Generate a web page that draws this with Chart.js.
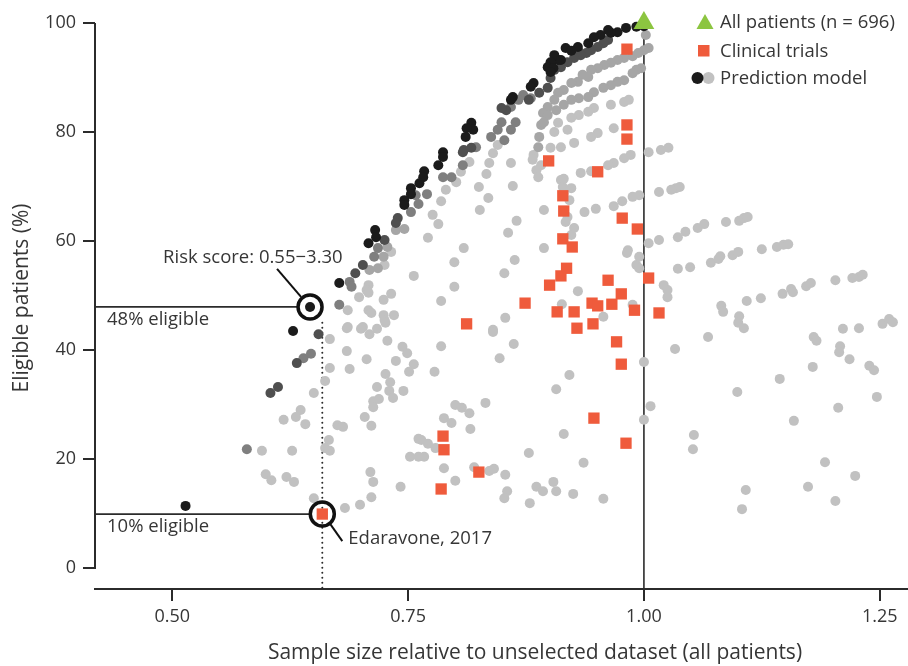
<!DOCTYPE html>
<html>
<head>
<meta charset="utf-8">
<script src="https://cdn.jsdelivr.net/npm/chart.js@4.4.1/dist/chart.umd.min.js"></script>
<style>
  body { margin: 0; background: #fff; }
  canvas { display: block; }
</style>
</head>
<body>
<canvas id="chart" width="908" height="666"></canvas>
<script>
// --- Data (x = sample size relative to all patients, y = eligible patients %) ---
const xTicks = [0.5, 0.75, 1.0, 1.25];
const yTicks = [0, 20, 40, 60, 80, 100];
const legendLabels = ['All patients (n = 696)', 'Clinical trials', 'Prediction model'];

const allPatients = [[1.0, 100]];

const clinicalTrials = [
  [0.982, 95.2], [0.982, 81.3], [0.982, 78.7], [0.899, 74.7], [0.951, 72.7], [0.914, 68.3],
  [0.915, 65.5], [0.977, 64.2], [0.993, 62.2], [0.914, 60.4], [0.924, 58.9], [0.918, 55.0],
  [0.912, 53.6], [0.962, 52.8], [1.005, 53.2], [0.900, 51.9], [0.976, 50.3], [0.874, 48.6],
  [0.945, 48.6], [0.966, 48.4], [0.951, 48.1], [0.908, 47.0], [0.926, 47.0], [0.990, 47.3],
  [1.016, 46.8], [0.812, 44.8], [0.946, 44.8], [0.929, 44.0], [0.971, 41.5], [0.976, 37.4],
  [0.947, 27.5], [0.787, 24.2], [0.788, 21.7], [0.825, 17.6], [0.785, 14.5], [0.659, 9.9],
  [0.981, 22.9]
];

// prediction model, grouped by shade (darkest = closest to the upper envelope)
const modelBlack = [
  [1.000, 99.4], [0.992, 99.3], [0.981, 99.1], [0.972, 98.3], [0.965, 98.2], [0.962, 98.7],
  [0.954, 97.8], [0.947, 97.4], [0.941, 96.3], [0.930, 95.6], [0.917, 95.4], [0.923, 94.9],
  [0.909, 93.2], [0.905, 94.1], [0.912, 93.2], [0.901, 92.8], [0.898, 91.9], [0.904, 91.7],
  [0.901, 91.0], [0.883, 89.0], [0.880, 88.3], [0.861, 86.4], [0.859, 85.9], [0.817, 81.7],
  [0.819, 80.4], [0.812, 80.7], [0.811, 79.1], [0.787, 76.3], [0.787, 75.4], [0.782, 73.9],
  [0.767, 72.8], [0.766, 71.7], [0.762, 70.6], [0.753, 69.7], [0.753, 68.6], [0.746, 67.5],
  [0.746, 66.6], [0.715, 62.0], [0.716, 60.7], [0.708, 59.6], [0.677, 52.3], [0.646, 47.9],
  [0.628, 43.5], [0.514, 11.4]
];

const modelDark = [
  [0.854, 84.0], [0.849, 84.4], [0.878, 85.9], [0.809, 76.7], [0.817, 77.1], [0.808, 76.3],
  [0.962, 96.9], [0.957, 96.3], [0.951, 95.6], [0.944, 95.0], [0.939, 94.5], [0.931, 94.7],
  [0.933, 94.1], [0.926, 93.6], [0.919, 92.8], [0.912, 91.9], [0.905, 91.4], [0.901, 89.9],
  [0.898, 88.1], [0.889, 87.2], [0.739, 64.2], [0.737, 63.3], [0.725, 60.2], [0.702, 55.6],
  [0.694, 54.1], [0.655, 42.9], [0.632, 37.6], [0.604, 32.1], [0.612, 33.2]
];

const modelMid = [
  [0.880, 86.2], [0.872, 86.8], [0.867, 85.9], [0.859, 84.6], [0.852, 78.5], [0.859, 80.4],
  [0.864, 81.8], [0.822, 77.2], [0.787, 71.7], [0.796, 71.7], [0.808, 73.9], [0.770, 68.6],
  [0.758, 68.4], [0.753, 65.3], [0.718, 58.7], [0.714, 57.1], [0.688, 52.5], [0.690, 51.6],
  [0.677, 48.3], [0.639, 38.5], [0.647, 39.3], [0.579, 21.8], [0.849, 81.8], [0.845, 80.4],
  [0.838, 79.1], [0.761, 66.8]
];

const modelLight = [
  [1.005, 95.4], [1.000, 95.0], [0.994, 94.5], [0.988, 93.9], [0.979, 93.6], [0.972, 93.2],
  [0.965, 92.7], [0.958, 92.3], [0.951, 91.7], [0.944, 91.4], [0.935, 90.5], [0.941, 90.1],
  [0.930, 89.2], [0.923, 89.0], [0.915, 87.7], [0.909, 87.2], [0.905, 85.9], [0.898, 84.6],
  [0.893, 83.5], [0.891, 81.3], [0.889, 79.1], [0.888, 77.2], [0.997, 91.7], [0.992, 91.4],
  [0.988, 90.8], [0.979, 89.5], [0.972, 89.2], [0.965, 88.6], [0.957, 88.1], [0.947, 87.3],
  [0.941, 86.4], [0.931, 86.2], [0.923, 85.9], [0.915, 85.0], [0.907, 84.0], [0.898, 83.1],
  [0.894, 81.8], [0.737, 62.0], [0.746, 62.2], [0.728, 58.9], [0.724, 57.1], [0.709, 54.7],
  [0.718, 55.0], [1.002, 97.8]
];

const modelPale = [
  [0.984, 85.9], [0.979, 85.5], [0.965, 85.0], [0.947, 84.4], [0.941, 83.7], [0.931, 83.1],
  [0.923, 82.6], [0.909, 81.7], [0.968, 80.7], [0.951, 79.8], [0.944, 79.1], [0.926, 78.0],
  [0.912, 77.2], [0.901, 77.1], [0.919, 80.4], [0.905, 80.0],
  [1.026, 77.1], [1.018, 76.7], [1.005, 76.3], [0.986, 75.8], [0.979, 75.2], [0.968, 74.3],
  [0.962, 73.9], [0.933, 72.5], [0.912, 71.2], [0.914, 69.9], [0.915, 68.8],
  [1.038, 69.9], [1.034, 69.7], [1.029, 69.4], [1.016, 69.0], [0.995, 68.4], [0.988, 68.1],
  [0.977, 67.3], [0.968, 66.4], [0.949, 65.9], [0.937, 65.3],
  [0.883, 75.8], [0.882, 74.9], [0.891, 73.9], [0.886, 73.0], [0.888, 71.7], [0.915, 71.4],
  [0.923, 69.7], [0.921, 67.5], [0.919, 64.4], [0.917, 63.5], [0.926, 62.4], [0.923, 61.1],
  [0.894, 65.7], [0.894, 58.7], [0.944, 72.8],
  [0.833, 72.3], [0.825, 69.9], [0.835, 67.9], [0.836, 74.3], [0.859, 74.3], [0.861, 70.1],
  [0.826, 65.7], [0.865, 63.7], [0.856, 61.5], [0.809, 58.7], [0.799, 56.1], [0.863, 56.5],
  [0.852, 54.1], [0.799, 51.6], [0.785, 49.0], [0.853, 45.9], [0.840, 43.7],
  [0.801, 70.8], [0.815, 74.5], [0.806, 72.7], [0.840, 76.1], [0.845, 77.6], [0.790, 69.4],
  [0.785, 67.3], [0.776, 64.8], [0.782, 63.1], [0.771, 60.6],
  [0.732, 58.0], [0.725, 55.6], [0.756, 53.6], [0.708, 51.9], [0.706, 51.0], [0.698, 49.7],
  [0.708, 50.5], [0.732, 50.3], [0.724, 49.2], [0.686, 47.3], [0.708, 47.3], [0.711, 46.8],
  [0.724, 46.4], [0.725, 45.5], [0.735, 46.4], [0.686, 44.2], [0.702, 44.2],
  [1.005, 59.6], [0.983, 58.3], [0.982, 57.8], [0.995, 57.1], [0.992, 55.6], [0.995, 55.0],
  [0.930, 50.8], [0.913, 48.4], [0.957, 46.1], [0.988, 48.3],
  [1.016, 60.2], [1.036, 60.7], [1.044, 61.7], [1.057, 62.4], [1.064, 63.1], [1.087, 63.5],
  [1.101, 63.7], [1.106, 64.2], [1.110, 64.4],
  [1.036, 54.9], [1.049, 55.2], [1.071, 56.0], [1.079, 56.7], [1.081, 57.2], [1.094, 57.4],
  [1.100, 58.0], [1.125, 58.5], [1.141, 58.9], [1.148, 59.3], [1.153, 59.4],
  [1.021, 51.9], [1.025, 51.0], [1.025, 49.7], [1.082, 48.1], [1.084, 47.0], [1.101, 46.2],
  [1.100, 45.0], [1.109, 49.0], [1.124, 49.5], [1.147, 50.3], [1.156, 51.2], [1.158, 50.6],
  [1.172, 51.7], [1.177, 52.3], [1.203, 52.8], [1.221, 53.2], [1.228, 53.4], [1.232, 53.8],
  [1.253, 44.8], [1.260, 45.7], [1.264, 45.1], [1.211, 43.9], [1.228, 44.0],
  [1.106, 44.0], [1.068, 42.4], [1.033, 40.2], [1.000, 37.8], [1.180, 42.4], [1.183, 41.7],
  [1.208, 40.7], [1.207, 39.6], [1.218, 38.3], [1.179, 36.9], [1.239, 37.1], [1.244, 36.3],
  [1.144, 34.7], [1.099, 32.3], [1.247, 31.4], [1.206, 29.4], [1.007, 29.7], [1.000, 27.2],
  [1.159, 27.0], [1.053, 24.4], [1.052, 21.8], [1.192, 19.4], [1.224, 16.9], [1.174, 14.9],
  [1.108, 14.3], [1.203, 12.3], [1.104, 10.8],
  [0.840, 43.3], [0.862, 41.1], [0.847, 38.5], [0.785, 40.7], [0.778, 36.0], [0.921, 35.4],
  [0.907, 32.8], [0.832, 30.3], [0.800, 29.9], [0.807, 29.4], [0.815, 28.4], [0.788, 27.5],
  [0.796, 26.6], [0.816, 25.5], [0.915, 24.6], [0.764, 23.5], [0.771, 22.8], [0.779, 22.0],
  [0.767, 20.4], [0.878, 21.1], [0.936, 19.3], [0.788, 18.3], [0.820, 18.5], [0.836, 17.8],
  [0.841, 18.2], [0.853, 17.1], [0.800, 16.0], [0.855, 14.1], [0.852, 12.8], [0.886, 14.9],
  [0.893, 14.1], [0.904, 15.8], [0.907, 14.1], [0.925, 13.6], [0.879, 11.9], [0.957, 12.7],
  [0.752, 20.4], [0.761, 20.4], [0.761, 23.7],
  [0.685, 44.0], [0.700, 43.9], [0.709, 42.9], [0.717, 43.9], [0.728, 41.7], [0.726, 45.0],
  [0.667, 42.0], [0.685, 39.8], [0.706, 38.3], [0.737, 38.0], [0.744, 40.6], [0.749, 39.4],
  [0.756, 37.4], [0.751, 36.0], [0.667, 36.7], [0.688, 36.5], [0.662, 34.3], [0.726, 35.6],
  [0.731, 34.1], [0.717, 33.2], [0.730, 32.5], [0.745, 32.5], [0.734, 31.2], [0.713, 30.6],
  [0.719, 31.0], [0.713, 29.5], [0.650, 32.1], [0.636, 29.0], [0.631, 27.7], [0.618, 27.2],
  [0.641, 26.4], [0.675, 26.2], [0.681, 25.9], [0.704, 27.7], [0.711, 26.1], [0.666, 23.5],
  [0.662, 22.0], [0.667, 21.5], [0.595, 21.5], [0.627, 21.5], [0.599, 17.2], [0.605, 16.1],
  [0.621, 16.7], [0.629, 15.8], [0.710, 17.6], [0.713, 15.8], [0.742, 14.9], [0.711, 13.0],
  [0.699, 11.6], [0.683, 11.0], [0.650, 12.8]
];

// highlighted examples
const riskPoint = [0.646, 47.9];
const edaravonePoint = [0.659, 9.9];
const dottedFrom = 45;

// --- Styles ---
const FONT = "'Open Sans', sans-serif";
const TEXT = '#363636';
const AXIS = '#2b2b2b';
const GREEN = '#8cc540';
const RED = '#ef5b3c';
const SHADES = { black: '#1b1b1b', dark: '#4f4f4f', mid: '#7f7f7f', light: '#a6a6a6', pale: '#c1c1c1' };

Chart.defaults.font.family = FONT;

const toXY = arr => arr.map(p => ({ x: p[0], y: p[1] }));

function dots(data, color) {
    return {
        data: toXY(data),
        pointStyle: 'circle',
        pointRadius: 5,
        backgroundColor: color,
        borderWidth: 0,
        clip: false
    };
}

// --- Annotation / legend plugin ---
function line(ctx, x1, y1, x2, y2) {
    ctx.beginPath();
    ctx.moveTo(x1, y1);
    ctx.lineTo(x2, y2);
    ctx.stroke();
}

const annotations = {
    id: 'annotations',
    beforeDatasetsDraw(chart) {
        const { ctx, chartArea, scales: { x, y } } = chart;
        ctx.save();
        ctx.strokeStyle = AXIS;

        // y spine only between 0 and 100
        ctx.lineWidth = 2;
        line(ctx, chartArea.left, y.getPixelForValue(0) + 1, chartArea.left, y.getPixelForValue(100));

        // reference line at 1.00
        ctx.lineWidth = 1.6;
        line(ctx, x.getPixelForValue(1), y.getPixelForValue(100), x.getPixelForValue(1), chartArea.bottom);

        // dotted line through Edaravone
        const ex = x.getPixelForValue(edaravonePoint[0]);
        ctx.save();
        ctx.lineWidth = 2;
        ctx.lineCap = 'round';
        ctx.setLineDash([0, 5]);
        line(ctx, ex, y.getPixelForValue(dottedFrom), ex, chartArea.bottom);
        ctx.restore();

        // eligibility lines
        ctx.lineWidth = 1.8;
        const r = 12;
        const rx = x.getPixelForValue(riskPoint[0]), ry = y.getPixelForValue(riskPoint[1]);
        line(ctx, chartArea.left, ry, rx - r, ry);
        const ey = y.getPixelForValue(edaravonePoint[1]);
        line(ctx, chartArea.left, ey, ex - r, ey);
        ctx.restore();
    },
    afterDatasetsDraw(chart) {
        const { ctx, chartArea, scales: { x, y } } = chart;
        ctx.save();
        const r = 12;
        const rx = x.getPixelForValue(riskPoint[0]), ry = y.getPixelForValue(riskPoint[1]);
        const ex = x.getPixelForValue(edaravonePoint[0]), ey = y.getPixelForValue(edaravonePoint[1]);

        // circles
        ctx.strokeStyle = '#111';
        ctx.lineWidth = 3.5;
        [[rx, ry], [ex, ey]].forEach(([cx, cy]) => {
            ctx.beginPath();
            ctx.arc(cx, cy, r, 0, Math.PI * 2);
            ctx.stroke();
        });

        // leader lines
        ctx.lineWidth = 2;
        line(ctx, rx - 9, ry - 10, rx - 33, ry - 38);
        line(ctx, ex + 8, ey + 10, ex + 20, ey + 27);

        // annotation text
        ctx.fillStyle = TEXT;
        ctx.textBaseline = 'middle';
        ctx.textAlign = 'left';
        ctx.font = `18.5px ${FONT}`;
        ctx.fillText('Risk score: 0.55\u22123.30', rx - 147, ry - 49);
        ctx.fillText('48% eligible', chartArea.left + 12, ry + 13);
        ctx.fillText('10% eligible', chartArea.left + 12, ey + 13);
        ctx.fillText('Edaravone, 2017', ex + 26, ey + 25);

        // legend
        ctx.font = `18.5px ${FONT}`;
        const lx = 720;
        const rows = [22, 51, 78];
        ctx.fillStyle = GREEN;
        ctx.beginPath();
        ctx.moveTo(705, rows[0] - 8);
        ctx.lineTo(713.5, rows[0] + 7);
        ctx.lineTo(696.5, rows[0] + 7);
        ctx.closePath();
        ctx.fill();
        ctx.fillStyle = RED;
        ctx.fillRect(698, rows[1] - 6, 11.5, 11.5);
        ctx.fillStyle = SHADES.pale;
        ctx.beginPath(); ctx.arc(708.5, rows[2], 6, 0, Math.PI * 2); ctx.fill();
        ctx.fillStyle = SHADES.black;
        ctx.beginPath(); ctx.arc(697.5, rows[2], 6, 0, Math.PI * 2); ctx.fill();
        ctx.fillStyle = TEXT;
        legendLabels.forEach((t, i) => ctx.fillText(t, lx, rows[i] + 1));

        // axis titles
        ctx.font = `21px ${FONT}`;
        ctx.textAlign = 'center';
        ctx.fillText('Sample size relative to unselected dataset (all patients)', 535, 653);
        ctx.translate(22, 298);
        ctx.rotate(-Math.PI / 2);
        ctx.fillText('Eligible patients (%)', 0, 0);
        ctx.restore();
    }
};

// fixed axis boxes so the plot area lands at left 95, top 23, right 908, bottom 589
function fixBox(s, size) {
    if (s.isHorizontal()) s.height = size; else s.width = size;
    s.paddingLeft = 0;
    s.paddingRight = 0;
    s.paddingTop = 0;
    s.paddingBottom = 0;
}

// --- Chart ---
new Chart(document.getElementById('chart').getContext('2d'), {
    type: 'scatter',
    data: {
        datasets: [
            {
                data: toXY(allPatients),
                pointStyle: 'triangle',
                pointRadius: 12,
                backgroundColor: GREEN,
                borderWidth: 0,
                clip: false
            },
            {
                data: toXY(clinicalTrials),
                pointStyle: 'rect',
                pointRadius: 8,
                backgroundColor: RED,
                borderWidth: 0,
                clip: false
            },
            dots(modelBlack, SHADES.black),
            dots(modelDark, SHADES.dark),
            dots(modelMid, SHADES.mid),
            dots(modelLight, SHADES.light),
            dots(modelPale, SHADES.pale)
        ]
    },
    options: {
        responsive: false,
        animation: false,
        events: [],
        layout: { autoPadding: false, padding: { top: 23, right: 0, bottom: 0, left: 0 } },
        plugins: { legend: { display: false }, tooltip: { enabled: false } },
        scales: {
            x: {
                type: 'linear',
                min: 0.418,
                max: 1.28,
                afterBuildTicks: s => { s.ticks = xTicks.map(v => ({ value: v })); },
                afterFit: s => fixBox(s, 77),
                ticks: {
                    callback: v => v.toFixed(2),
                    font: { size: 18 },
                    color: TEXT,
                    padding: 5,
                    maxRotation: 0
                },
                grid: { drawOnChartArea: false, tickLength: 12, color: AXIS, lineWidth: 2 },
                border: { color: AXIS, width: 2 }
            },
            y: {
                type: 'linear',
                min: -3.85,
                max: 100,
                afterBuildTicks: s => { s.ticks = yTicks.map(v => ({ value: v })); },
                afterFit: s => fixBox(s, 95),
                ticks: { font: { size: 18 }, color: TEXT, padding: 7 },
                grid: { drawOnChartArea: false, tickLength: 12, color: AXIS, lineWidth: 2 },
                border: { display: false }
            }
        }
    },
    plugins: [annotations]
});
</script>
</body>
</html>
